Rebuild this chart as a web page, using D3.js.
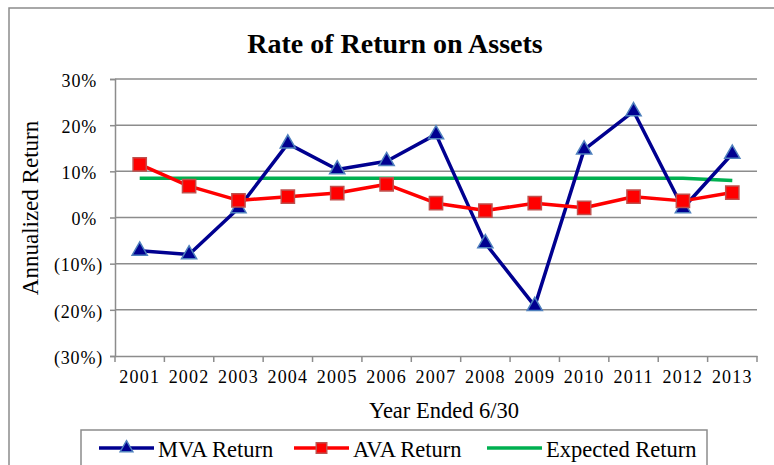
<!DOCTYPE html>
<html>
<head>
<meta charset="utf-8">
<script src="https://cdn.jsdelivr.net/npm/d3@7"></script>
<style>
  html, body { margin: 0; padding: 0; background: #fff; }
  svg text { font-family: "Liberation Serif", "Times New Roman", serif; fill: #000; }
</style>
</head>
<body>
<div id="chart"></div>
<script>
const years = ['2001', '2002', '2003', '2004', '2005', '2006', '2007', '2008', '2009', '2010', '2011', '2012', '2013'];
const mvaReturn = [-7.2, -8.0, 2.0, 16.0, 10.4, 12.2, 18.0, -5.6, -19.2, 14.7, 23.0, 2.0, 13.8];
const avaReturn = [11.5, 6.8, 3.7, 4.5, 5.3, 7.2, 3.1, 1.5, 3.1, 2.1, 4.5, 3.6, 5.4];
const expectedReturn = [8.5, 8.5, 8.5, 8.5, 8.5, 8.5, 8.5, 8.5, 8.5, 8.5, 8.5, 8.5, 8.0];
const yTicks = [30, 20, 10, 0, -10, -20, -30];

const width = 774, height = 465;
const plot = { left: 115, right: 757, top: 79, bottom: 356 };

const svg = d3.select('#chart')
    .append('svg')
    .attr('width', width)
    .attr('height', height);

// outer chart border (runs past the right / bottom edges)
svg.append('rect')
    .attr('x', 9).attr('y', 8)
    .attr('width', 820).attr('height', 520)
    .attr('fill', 'none')
    .attr('stroke', '#8c8c8c')
    .attr('stroke-width', 1.5);

const x = d3.scaleBand().domain(years).range([plot.left, plot.right]).paddingInner(0).paddingOuter(0);
const y = d3.scaleLinear().domain([-30, 30]).range([plot.bottom, plot.top]);
const cx = d => x(d) + x.bandwidth() / 2;

// gridlines
svg.append('g')
    .selectAll('line')
    .data(yTicks.filter(t => t !== -30))
    .join('line')
    .attr('x1', plot.left).attr('x2', plot.right)
    .attr('y1', d => y(d)).attr('y2', d => y(d))
    .attr('stroke', '#8c8c8c')
    .attr('stroke-width', 1.5);

// y axis
const yAxis = svg.append('g')
    .attr('transform', `translate(${plot.left},0)`)
    .call(d3.axisLeft(y).tickValues(yTicks).tickSize(5).tickPadding(8)
        .tickFormat(d => d < 0 ? `(${Math.abs(d)}%)` : `${d}%`));
yAxis.select('.domain').attr('stroke', '#8c8c8c').attr('stroke-width', 1.5);
yAxis.selectAll('.tick line').attr('stroke', '#8c8c8c').attr('stroke-width', 1.5);
yAxis.selectAll('.tick text')
    .attr('font-size', 18)
    .attr('letter-spacing', 0.8)
    .attr('fill', '#000')
    .attr('x', d => d < 0 ? -12 : -18)
    .attr('dy', '0.4em');

// x axis: labels centred in bands, tick marks at band edges
const xAxis = svg.append('g')
    .attr('transform', `translate(0,${plot.bottom})`)
    .call(d3.axisBottom(x).tickSize(0).tickPadding(14));
xAxis.select('.domain').attr('stroke', '#8c8c8c').attr('stroke-width', 1.5);
xAxis.selectAll('.tick text')
    .attr('font-size', 18)
    .attr('letter-spacing', 1.2)
    .attr('fill', '#000');
xAxis.append('g')
    .selectAll('line')
    .data(years.concat(['end']))
    .join('line')
    .attr('x1', d => d === 'end' ? plot.right : x(d))
    .attr('x2', d => d === 'end' ? plot.right : x(d))
    .attr('y1', 0).attr('y2', 6)
    .attr('stroke', '#8c8c8c')
    .attr('stroke-width', 1.5);

// title and axis titles
svg.append('text')
    .attr('x', 395).attr('y', 53)
    .attr('text-anchor', 'middle')
    .attr('font-size', 28)
    .attr('font-weight', 'bold')
    .text('Rate of Return on Assets');

svg.append('text')
    .attr('transform', 'translate(38,208) rotate(-90)')
    .attr('text-anchor', 'middle')
    .attr('font-size', 23)
    .text('Annualized Return');

svg.append('text')
    .attr('x', 444).attr('y', 418)
    .attr('text-anchor', 'middle')
    .attr('font-size', 22.5)
    .text('Year Ended 6/30');

// series
const line = d3.line().x((d, i) => cx(years[i])).y(d => y(d));
const triangle = d3.symbol().type(d3.symbolTriangle).size(100);
const square = d3.symbol().type(d3.symbolSquare).size(175);

svg.append('path')
    .datum(expectedReturn)
    .attr('d', line)
    .attr('fill', 'none')
    .attr('stroke', '#00b050')
    .attr('stroke-width', 3.5);

svg.append('path')
    .datum(mvaReturn)
    .attr('d', line)
    .attr('fill', 'none')
    .attr('stroke', '#000090')
    .attr('stroke-width', 3.5)
    .attr('stroke-linejoin', 'round');

svg.append('g')
    .selectAll('path')
    .data(mvaReturn)
    .join('path')
    .attr('d', triangle)
    .attr('transform', (d, i) => `translate(${cx(years[i])},${y(d)})`)
    .attr('fill', '#000090')
    .attr('stroke', '#4f81bd')
    .attr('stroke-width', 1.5);

svg.append('path')
    .datum(avaReturn)
    .attr('d', line)
    .attr('fill', 'none')
    .attr('stroke', '#ff0000')
    .attr('stroke-width', 3.5)
    .attr('stroke-linejoin', 'round');

svg.append('g')
    .selectAll('path')
    .data(avaReturn)
    .join('path')
    .attr('d', square)
    .attr('transform', (d, i) => `translate(${cx(years[i])},${y(d)})`)
    .attr('fill', '#ff0000')
    .attr('stroke', '#c0504d')
    .attr('stroke-width', 1.5);

// legend
svg.append('rect')
    .attr('x', 81).attr('y', 430)
    .attr('width', 626).attr('height', 60)
    .attr('fill', '#fff')
    .attr('stroke', '#8c8c8c')
    .attr('stroke-width', 1.5);

const legendItems = [
    { name: 'MVA Return', color: '#000090', x: 99, marker: 'tri' },
    { name: 'AVA Return', color: '#ff0000', x: 294, marker: 'sq' },
    { name: 'Expected Return', color: '#00b050', x: 487, marker: null }
];
const legendY = 448;
const lg = svg.append('g')
    .selectAll('g')
    .data(legendItems)
    .join('g')
    .attr('transform', d => `translate(${d.x},${legendY})`);
lg.append('line')
    .attr('x1', 0).attr('x2', 55)
    .attr('stroke', d => d.color)
    .attr('stroke-width', 3.5);
lg.filter(d => d.marker === 'tri').append('path')
    .attr('d', d3.symbol().type(d3.symbolTriangle).size(70))
    .attr('transform', 'translate(27.5,0)')
    .attr('fill', '#000090')
    .attr('stroke', '#4f81bd')
    .attr('stroke-width', 1.5);
lg.filter(d => d.marker === 'sq').append('path')
    .attr('d', d3.symbol().type(d3.symbolSquare).size(110))
    .attr('transform', 'translate(27.5,0)')
    .attr('fill', '#ff0000')
    .attr('stroke', '#c0504d')
    .attr('stroke-width', 1.5);
lg.append('text')
    .attr('x', 59).attr('y', 9)
    .attr('font-size', 22.5)
    .text(d => d.name);
</script>
</body>
</html>
